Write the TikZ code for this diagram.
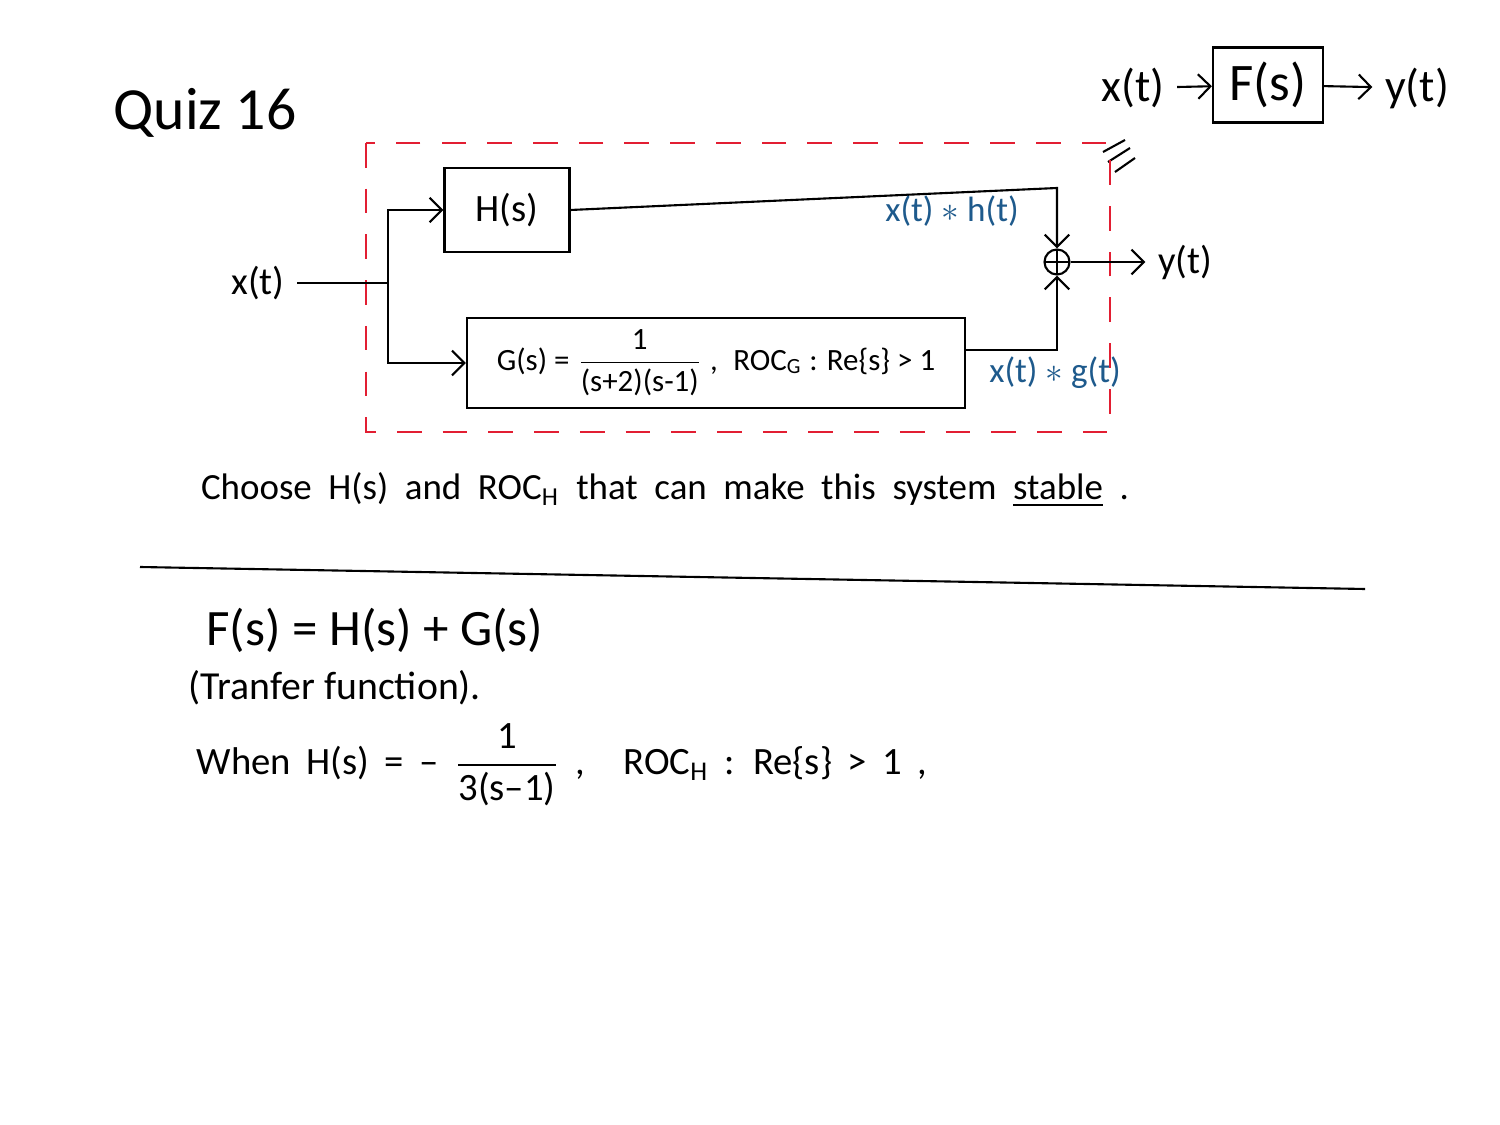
\documentclass[tikz,border=0pt]{standalone}
\usepackage{amsmath}
\usepackage{fontspec}
\setmainfont{Carlito}
\usetikzlibrary{arrows.meta, positioning}
\definecolor{boxred}{RGB}{226,30,50}
\definecolor{sigblue}{RGB}{30,90,140}
\newcommand{\widesp}[1]{\spaceskip=#1em\relax}

\begin{document}
\begin{tikzpicture}[x=0.01cm, y=-0.01cm, line width=0.6pt,
		>={Straight Barb[length=3.5pt,width=7pt]},
		hand/.style={font=\fontsize{11}{13}\selectfont},
		blk/.style={draw, inner sep=0pt, font=\fontsize{11}{13}\selectfont},
		sig/.style={text=sigblue, font=\fontsize{10}{12}\selectfont},
		sumnode/.style={circle, draw, minimum size=0.25cm, inner sep=0pt,
			path picture={\draw (path picture bounding box.north) -- (path picture bounding box.south)
				(path picture bounding box.west) -- (path picture bounding box.east);}}]
				\useasboundingbox (0,0) rectangle (1500,1125);

				\node (Quiz) at (205,113) {\fontsize{17}{20}\selectfont Quiz 16};

				\node (FIn) [hand, font=\fontsize{13}{15}\selectfont] at (1133,88) {x(t)};
				\node (FBox) [blk, minimum width=1.1cm, minimum height=0.75cm, font=\fontsize{15}{17}\selectfont] at (1268,85) {F(s)};
				\node (FOut) [hand, font=\fontsize{13}{15}\selectfont] at (1417,88) {y(t)};
				\draw[->] (FIn) -- (FBox);
				\draw[->] (FBox) -- (FOut);

				\draw (1103,152) -- (1125,140);
				\draw (1108,162) -- (1130,148);
				\draw (1115,172) -- (1135,158);

				\draw[boxred, dash pattern=on 7pt off 6pt] (366,143) rectangle (1110,432);

				\node (In) [hand] at (258,283) {x(t)};
				\coordinate (Split) at (388,283);
				\draw (In) -- (Split);

				\node (H) [blk, minimum width=1.25cm, minimum height=0.84cm] at (507,210) {H(s)};
				\node (G) [blk, minimum width=4.98cm, minimum height=0.9cm, font=\fontsize{8.8}{10}\selectfont] at (716,363)
					{G(s) = $\dfrac{\text{1}}{\text{(s+2)(s-1)}}$ ,\; ROC$_{\text{G}}$ : Re\{s\} > 1};
				\draw[->] (Split) |- (H.west);
				\draw[->] (Split) |- (G.west);

				\node (Sum) [sumnode] at (1057,262) {};
				\coordinate (HTurn) at (1057,188);
				\coordinate (GTurn) at (1057,350);
				\draw[->] (H.east) -- (HTurn) -- (Sum.north);
				\draw[->] (G.east |- GTurn) -- (GTurn) -- (Sum.south);

				\node (Out) [hand] at (1185,262) {y(t)};
				\draw[->] (Sum.east) -- (Out);

				\node (HSig) [sig] at (952,211) {x(t) $\ast$ h(t)};
				\node (GSig) [sig] at (1055,373) {x(t) $\ast$ g(t)};

				\node (Ask) [hand, font=\fontsize{10.5}{13}\selectfont] at (665,490)
					{\widesp{0.45}Choose H(s) and ROC$_{\text{H}}$ that can make this system \underline{stable} .};

				\draw (140,567) -- (1365,589);

				\node (FSum) [hand, font=\fontsize{14.5}{17}\selectfont] at (375,630) {F(s) = H(s) + G(s)};
				\node (Note) [hand, font=\fontsize{11.3}{14}\selectfont] at (335,688) {(Tranfer function).};
				\node (When) [hand, font=\fontsize{11}{13}\selectfont] at (562,765)
					{\widesp{0.4}When H(s) = – $\dfrac{\text{1}}{\text{3(s–1)}}$ ,\quad ROC$_{\text{H}}$ : Re\{s\} > 1 ,};
			\end{tikzpicture}
\end{document}
